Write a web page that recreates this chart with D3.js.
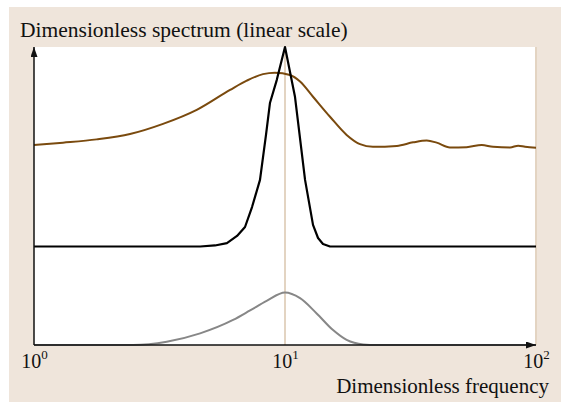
<!DOCTYPE html>
<html>
<head>
<meta charset="utf-8">
<script src="https://cdn.jsdelivr.net/npm/d3@7"></script>
<style>
  html, body { margin: 0; padding: 0; background: #ffffff; }
  svg { display: block; }
</style>
</head>
<body>
<div id="chart"></div>
<script>
// Frequency tick positions (decades)
const tickValues = [1, 10, 100];
const tickBase = "10";
const tickExponents = ["0", "1", "2"];

// Response spectrum (black): narrow peak at f = 10
const blackFreq = [1, 4.59, 5.26, 5.87, 6.44, 6.93, 7.39, 7.95, 8.40, 8.71, 9.27, 10, 10.96, 12.02, 12.93, 13.54, 14.17, 15.11, 100];
const blackVal  = [0.3305, 0.3305, 0.334, 0.342, 0.366, 0.396, 0.463, 0.554, 0.705, 0.812, 0.889, 1.0, 0.833, 0.554, 0.403, 0.359, 0.339, 0.3305, 0.3305];

// Excitation spectrum (brown): broad hump with small ripples at high frequency
const brownFreq = [1, 1.305, 1.777, 2.413, 3.266, 4.45, 6.04, 7.04, 8.17, 9.12, 10.47, 11.48, 12.93, 15.11, 17.6, 19.9, 22.4, 27.9, 32.4, 36.7, 40.2, 45.4, 52.9, 60.8, 67.4, 78.8, 85.0, 90.4, 100];
const brownVal  = [0.671, 0.679, 0.690, 0.708, 0.742, 0.789, 0.856, 0.887, 0.909, 0.914, 0.906, 0.884, 0.833, 0.766, 0.705, 0.674, 0.665, 0.668, 0.680, 0.686, 0.679, 0.663, 0.664, 0.671, 0.665, 0.663, 0.669, 0.665, 0.662];

// Transfer spectrum (grey): smooth bump centred on f = 10
const greyFreq = [1, 2.0, 2.48, 3.38, 4.59, 6.21, 7.26, 8.45, 10, 11.48, 13.37, 15.54, 17.6, 20.5, 23.2, 100];
const greyVal  = [0, 0, 0.0, 0.011, 0.039, 0.084, 0.116, 0.148, 0.176, 0.157, 0.106, 0.050, 0.017, 0.002, 0, 0];

const FONT = "'Liberation Serif', 'Times New Roman', Times, serif";
const W = 561, H = 402;
const svg = d3.select("#chart").append("svg").attr("width", W).attr("height", H);

// Panel background
svg.append("rect").attr("x", 9).attr("y", 7).attr("width", W - 9).attr("height", H - 7).attr("fill", "#efe5db");

const x = d3.scaleLog().domain([1, 100]).range([34, 536]);
const y = d3.scaleLinear().domain([0, 1]).range([345, 47]);

// Plot area
svg.append("rect")
  .attr("x", x(1)).attr("y", y(1))
  .attr("width", x(100) - x(1)).attr("height", y(0) - y(1))
  .attr("fill", "#ffffff");

// Decade grid lines
svg.append("g").selectAll("line").data([10, 100]).join("line")
  .attr("x1", d => x(d)).attr("x2", d => x(d))
  .attr("y1", y(1)).attr("y2", y(0))
  .attr("stroke", "#e3d4c2").attr("stroke-width", 2);

// Arrow marker for axes
svg.append("defs").append("marker")
  .attr("id", "arrow").attr("viewBox", "0 0 10 7")
  .attr("refX", 10).attr("refY", 3.5)
  .attr("markerWidth", 10).attr("markerHeight", 7)
  .attr("markerUnits", "userSpaceOnUse")
  .attr("orient", "auto")
  .append("path").attr("d", "M0,0 L10,3.5 L0,7 Z").attr("fill", "#111");

const line = (fs, vs, curve) => d3.line().curve(curve)
  .x(i => x(fs[i])).y(i => y(vs[i]))(d3.range(fs.length));

svg.append("path").attr("d", line(greyFreq, greyVal, d3.curveMonotoneX))
  .attr("fill", "none").attr("stroke", "#878787").attr("stroke-width", 2);

svg.append("path").attr("d", line(brownFreq, brownVal, d3.curveMonotoneX))
  .attr("fill", "none").attr("stroke", "#7a4a0e").attr("stroke-width", 2);

svg.append("path").attr("d", line(blackFreq, blackVal, d3.curveLinear))
  .attr("fill", "none").attr("stroke", "#000").attr("stroke-width", 2.2)
  .attr("stroke-linejoin", "round");

// Axes with arrowheads
svg.append("line").attr("x1", x(1)).attr("x2", x(1)).attr("y1", y(0)).attr("y2", y(1))
  .attr("stroke", "#111").attr("stroke-width", 1.5).attr("marker-end", "url(#arrow)");
svg.append("line").attr("x1", x(1)).attr("x2", x(100)).attr("y1", y(0)).attr("y2", y(0))
  .attr("stroke", "#111").attr("stroke-width", 1.5).attr("marker-end", "url(#arrow)");

// Decade tick labels
const xAxis = d3.axisBottom(x).tickValues(tickValues).tickSize(0).tickPadding(0).tickFormat(() => "");
const gx = svg.append("g").attr("transform", `translate(0,${y(0)})`).call(xAxis);
gx.select(".domain").remove();
gx.selectAll(".tick text").remove();
gx.selectAll(".tick").each(function(d, i) {
  const t = d3.select(this).append("text")
    .attr("y", 23).attr("text-anchor", "middle")
    .style("font-family", FONT).style("font-size", "20px").attr("fill", "#111");
  t.append("tspan").text(tickBase);
  t.append("tspan").attr("dy", -9).style("font-size", "13px").text(tickExponents[i]);
});

// Axis titles
svg.append("text").attr("x", 20).attr("y", 37)
  .style("font-family", FONT).style("font-size", "21.5px").attr("fill", "#111")
  .text("Dimensionless spectrum (linear scale)");
svg.append("text").attr("x", 549).attr("y", 393)
  .style("font-family", FONT).style("font-size", "21px").attr("fill", "#111")
  .attr("text-anchor", "end").text("Dimensionless frequency");
</script>
</body>
</html>
